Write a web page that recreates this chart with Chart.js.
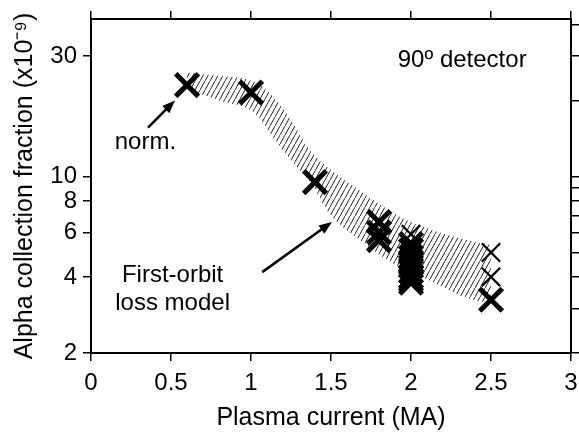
<!DOCTYPE html>
<html>
<head>
<meta charset="utf-8">
<script src="https://cdn.jsdelivr.net/npm/chart.js@4"></script>
<style>
  html, body { margin: 0; padding: 0; background: #fff; }
</style>
</head>
<body>
<canvas id="chart" width="579" height="438"></canvas>
<script>
// measured points (plasma current in MA, fraction in 1e-9)
const boldCurrent  = [0.6, 1.0, 1.4, 1.8, 1.8, 1.8, 2.0, 2.0, 2.0, 2.0, 2.0, 2.0, 2.0, 2.0, 2.0, 2.5];
const boldFraction = [23, 21.5, 9.5, 6.6, 6.0, 5.6, 5.4, 5.1, 4.8, 4.6, 4.4, 4.2, 4.0, 3.9, 3.8, 3.25];
const thinCurrent  = [2.0, 2.5, 2.5];
const thinFraction = [5.9, 5.0, 4.0];

// first-orbit loss model band
const bandCurrent = [0.6, 0.8, 1.0, 1.12, 1.25, 1.37, 1.5, 1.68, 1.87, 2.0, 2.18, 2.35, 2.5];
const bandUpper   = [25.8, 25.0, 24.0, 21.3, 16.7, 12.7, 10.6, 8.8, 7.3, 6.6, 6.0, 5.6, 5.35];
const bandLower   = [22.3, 20.0, 18.3, 14.8, 11.6, 9.5, 7.0, 5.6, 4.6, 4.2, 3.7, 3.3, 3.15];

const xTicks = [0, 0.5, 1, 1.5, 2, 2.5, 3];
const yTicks = [2, 3, 4, 5, 6, 7, 8, 9, 10, 20, 30, 40];
const yLabels = [2, 4, 6, 8, 10, 30];

const pts = (xs, ys) => xs.map((x, i) => ({ x: x, y: ys[i] }));

function hatch() {
  const c = document.createElement('canvas');
  c.width = 5; c.height = 9;
  const g = c.getContext('2d');
  g.strokeStyle = '#222';
  g.lineWidth = 1;
  g.beginPath();
  g.moveTo(-0.5, 9.9);
  g.lineTo(5.5, -0.9);
  g.stroke();
  return g.createPattern(c, 'repeat');
}

const FONT = "'Liberation Sans', Arial, Helvetica, sans-serif";

function arrow(ctx, x1, y1, x2, y2) {
  const a = Math.atan2(y2 - y1, x2 - x1);
  const len = 13, w = 5;
  ctx.beginPath();
  ctx.moveTo(x1, y1);
  ctx.lineTo(x2 - Math.cos(a) * len * 0.7, y2 - Math.sin(a) * len * 0.7);
  ctx.stroke();
  ctx.beginPath();
  ctx.moveTo(x2, y2);
  ctx.lineTo(x2 - Math.cos(a) * len - Math.sin(a) * w, y2 - Math.sin(a) * len + Math.cos(a) * w);
  ctx.lineTo(x2 - Math.cos(a) * len + Math.sin(a) * w, y2 - Math.sin(a) * len - Math.cos(a) * w);
  ctx.closePath();
  ctx.fill();
}

const notes = {
  id: 'notes',
  afterDatasetsDraw(chart) {
    const ctx = chart.ctx, x = chart.scales.x, y = chart.scales.y;
    const px = v => x.getPixelForValue(v), py = v => y.getPixelForValue(v);
    ctx.save();
    ctx.fillStyle = '#000';
    ctx.strokeStyle = '#000';
    ctx.lineWidth = 2.5;
    ctx.font = '24px ' + FONT;
    ctx.textAlign = 'center';
    ctx.textBaseline = 'middle';
    ctx.fillText('90º detector', px(2.32), py(28.8));
    ctx.fillText('norm.', px(0.34), py(13.6));
    ctx.fillText('First-orbit', px(0.51), py(4.07));
    ctx.fillText('loss model', px(0.51), py(3.15));
    arrow(ctx, px(0.356), py(15.6), px(0.525), py(20.0));
    arrow(ctx, px(1.07), py(4.18), px(1.506), py(6.6));
    ctx.restore();
  }
};

const tickGrid = { drawOnChartArea: false, drawTicks: true, tickLength: 8, color: '#000', lineWidth: 1.5 };
const border = { display: true, color: '#000', width: 2 };

new Chart(document.getElementById('chart'), {
  type: 'scatter',
  data: {
    datasets: [
      {
        data: pts(boldCurrent, boldFraction),
        pointStyle: 'crossRot',
        pointRadius: 16,
        pointBorderWidth: 5,
        borderColor: '#000',
        backgroundColor: '#000'
      },
      {
        data: pts(thinCurrent, thinFraction),
        pointStyle: 'crossRot',
        pointRadius: 13,
        pointBorderWidth: 2.2,
        borderColor: '#000',
        backgroundColor: '#000'
      },
      {
        type: 'line',
        data: pts(bandCurrent, bandUpper),
        fill: '+1',
        backgroundColor: hatch(),
        borderWidth: 0,
        pointRadius: 0,
        tension: 0.4
      },
      {
        type: 'line',
        data: pts(bandCurrent, bandLower),
        fill: false,
        borderWidth: 0,
        pointRadius: 0,
        tension: 0.4
      }
    ]
  },
  options: {
    responsive: false,
    animation: false,
    events: [],
    layout: { padding: 0, autoPadding: false },
    plugins: { legend: { display: false }, tooltip: { enabled: false } },
    scales: {
      x: {
        type: 'linear', position: 'bottom', min: 0, max: 3,
        afterBuildTicks: s => { s.ticks = xTicks.map(v => ({ value: v })); },
        ticks: { color: '#000', font: { size: 24, family: FONT }, padding: 8, maxRotation: 0, callback: v => String(v) },
        grid: tickGrid, border: border,
        title: { display: true, text: 'Plasma current (MA)', color: '#000', font: { size: 25, family: FONT }, padding: { top: 0, bottom: 5 } },
        afterFit: s => { s.height = 85; s.paddingLeft = 0; s.paddingRight = 0; }
      },
      x2: {
        type: 'linear', position: 'top', min: 0, max: 3,
        afterBuildTicks: s => { s.ticks = xTicks.map(v => ({ value: v })); },
        ticks: { display: false },
        grid: tickGrid, border: border,
        afterFit: s => { s.height = 19; s.paddingLeft = 0; s.paddingRight = 0; }
      },
      y: {
        type: 'logarithmic', position: 'left', min: 2, max: 42,
        afterBuildTicks: s => { s.ticks = yTicks.map(v => ({ value: v })); },
        ticks: {
          color: '#000', font: { size: 24, family: FONT }, padding: 6,
          callback: v => yLabels.includes(v) ? String(v) : ''
        },
        grid: tickGrid, border: border,
        title: { display: true, text: 'Alpha collection fraction (x10⁻⁹)', color: '#000', font: { size: 25, family: FONT }, padding: { top: 10, bottom: 0 } },
        afterFit: s => { s.width = 91; s.paddingTop = 0; s.paddingBottom = 0; }
      },
      y2: {
        type: 'logarithmic', position: 'right', min: 2, max: 42,
        afterBuildTicks: s => { s.ticks = yTicks.map(v => ({ value: v })); },
        ticks: { display: false },
        grid: tickGrid, border: border,
        afterFit: s => { s.width = 8; s.paddingTop = 0; s.paddingBottom = 0; }
      }
    }
  },
  plugins: [notes]
});
</script>
</body>
</html>
